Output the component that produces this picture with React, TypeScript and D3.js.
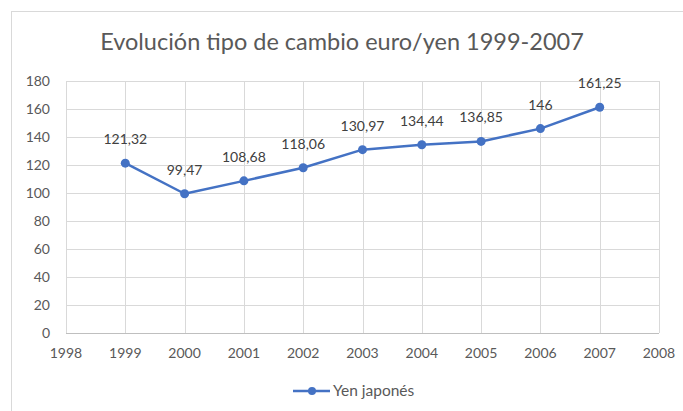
import React, { useEffect, useRef } from "react";
import * as d3 from "d3";

const years = [1999, 2000, 2001, 2002, 2003, 2004, 2005, 2006, 2007];
const yenValues = [121.32, 99.47, 108.68, 118.06, 130.97, 134.44, 136.85, 146, 161.25];
const xTicks = [1998, 1999, 2000, 2001, 2002, 2003, 2004, 2005, 2006, 2007, 2008];
const yTicks = [0, 20, 40, 60, 80, 100, 120, 140, 160, 180];
const seriesName = "Yen japonés";
const title = "Evolución tipo de cambio euro/yen 1999-2007";

const App = () => {
	const svgRef = useRef<SVGSVGElement>(null);

	useEffect(() => {
		document.body.style.margin = "0";
		const svg = d3.select(svgRef.current);
		svg.selectAll("*").remove();

		const font = "Lato, 'Open Sans', sans-serif";
		const blue = "#4472c4";

		// chart frame (cut off on the right and bottom like the screenshot)
		svg
			.append("rect")
			.attr("x", 11.5)
			.attr("y", 11.5)
			.attr("width", 700)
			.attr("height", 420)
			.attr("fill", "white")
			.attr("stroke", "#d9d9d9");

		const x = d3.scaleLinear().domain([1998, 2008]).range([66, 659]);
		const y = d3.scaleLinear().domain([0, 180]).range([333, 81]);

		svg
			.append("text")
			.attr("x", 342)
			.attr("y", 50)
			.attr("text-anchor", "middle")
			.style("font-family", font)
			.style("font-size", "23.5px")
			.attr("fill", "#595959")
			.text(title);

		// horizontal gridlines
		svg
			.append("g")
			.selectAll("line")
			.data(yTicks)
			.enter()
			.append("line")
			.attr("x1", x(1998))
			.attr("x2", x(2008))
			.attr("y1", (d) => Math.round(y(d)) + 0.5)
			.attr("y2", (d) => Math.round(y(d)) + 0.5)
			.attr("stroke", (d) => (d === 0 ? "#bfbfbf" : "#d9d9d9"));

		// vertical gridlines
		svg
			.append("g")
			.selectAll("line")
			.data(xTicks)
			.enter()
			.append("line")
			.attr("x1", (d) => Math.round(x(d)) + 0.5)
			.attr("x2", (d) => Math.round(x(d)) + 0.5)
			.attr("y1", y(180))
			.attr("y2", y(0))
			.attr("stroke", "#d9d9d9");

		// y labels
		svg
			.append("g")
			.selectAll("text")
			.data(yTicks)
			.enter()
			.append("text")
			.attr("x", 50)
			.attr("y", (d) => y(d) + 5)
			.attr("text-anchor", "end")
			.style("font-family", font)
			.style("font-size", "14px")
			.attr("fill", "#595959")
			.text((d) => d);

		// x labels
		svg
			.append("g")
			.selectAll("text")
			.data(xTicks)
			.enter()
			.append("text")
			.attr("x", (d) => x(d))
			.attr("y", 358)
			.attr("text-anchor", "middle")
			.style("font-family", font)
			.style("font-size", "14px")
			.attr("fill", "#595959")
			.text((d) => d);

		const points = years.map((yr, i) => ({ year: yr, value: yenValues[i] }));

		const line = d3
			.line<{ year: number; value: number }>()
			.x((d) => x(d.year))
			.y((d) => y(d.value));

		svg
			.append("path")
			.datum(points)
			.attr("d", line)
			.attr("fill", "none")
			.attr("stroke", blue)
			.attr("stroke-width", 2.5)
			.attr("stroke-linejoin", "round");

		svg
			.append("g")
			.selectAll("circle")
			.data(points)
			.enter()
			.append("circle")
			.attr("cx", (d) => x(d.year))
			.attr("cy", (d) => y(d.value))
			.attr("r", 4.5)
			.attr("fill", blue);

		// data labels, decimal comma
		svg
			.append("g")
			.selectAll("text")
			.data(points)
			.enter()
			.append("text")
			.attr("x", (d) => x(d.year))
			.attr("y", (d) => y(d.value) - 19)
			.attr("text-anchor", "middle")
			.style("font-family", font)
			.style("font-size", "14px")
			.attr("fill", "#404040")
			.text((d) => String(d.value).replace(".", ","));

		// legend
		const legend = svg.append("g");
		legend
			.append("line")
			.attr("x1", 293)
			.attr("x2", 330)
			.attr("y1", 391)
			.attr("y2", 391)
			.attr("stroke", blue)
			.attr("stroke-width", 2.5);
		legend
			.append("circle")
			.attr("cx", 312)
			.attr("cy", 391)
			.attr("r", 4)
			.attr("fill", blue);
		legend
			.append("text")
			.attr("x", 333)
			.attr("y", 396)
			.style("font-family", font)
			.style("font-size", "15.5px")
			.attr("fill", "#595959")
			.text(seriesName);
	}, []);

	return <svg ref={svgRef} width={683} height={411} style={{ display: "block" }}></svg>;
};

export default App;
